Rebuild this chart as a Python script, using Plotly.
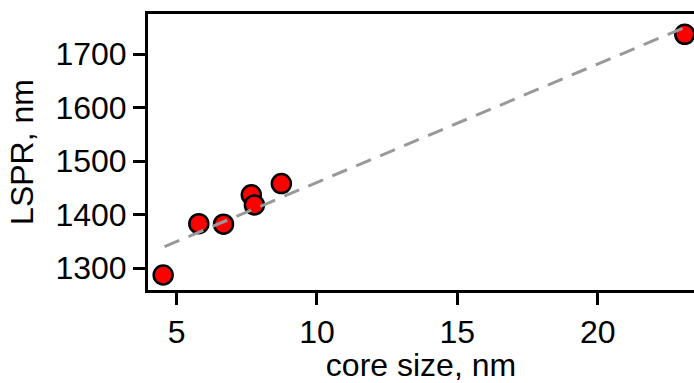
import plotly.graph_objects as go

core_size = [4.52, 5.79, 6.67, 7.66, 7.77, 8.73, 23.1]
lspr = [1287, 1383, 1382, 1437, 1418, 1458, 1737]
fit_x = [4.57, 23.1]
fit_y = [1340, 1750]

x_ticks = [5, 10, 15, 20]
y_ticks = [1300, 1400, 1500, 1600, 1700]

fig = go.Figure()
fig.add_trace(go.Scatter(
    x=core_size, y=lspr, mode="markers",
    marker=dict(size=19, color="#ff0000", line=dict(color="black", width=2.5)),
    cliponaxis=False, showlegend=False))
fig.add_trace(go.Scatter(
    x=fit_x, y=fit_y, mode="lines",
    line=dict(color="#999999", width=3, dash="16px,10px"),
    showlegend=False))

fam = "Liberation Sans, Arial, sans-serif"
tick_font = dict(family=fam, size=32, color="black")
title_font = dict(family=fam, size=32, color="black")
fig.update_layout(
    width=694, height=383,
    margin=dict(l=148, r=0, t=14, b=93),
    paper_bgcolor="white", plot_bgcolor="white",
    font=tick_font,
    xaxis=dict(range=[3.98, 23.43], tickvals=x_ticks, showgrid=False, zeroline=False,
               showline=True, linecolor="black", linewidth=3, mirror=True,
               ticks="outside", ticklen=12, tickwidth=3, tickcolor="black",
               title=dict(text="core size, nm", standoff=4, font=title_font), tickfont=tick_font),
    yaxis=dict(range=[1259, 1775], tickvals=y_ticks, showgrid=False, zeroline=False,
               showline=True, linecolor="black", linewidth=3, mirror=False,
               ticks="outside", ticklen=12, tickwidth=3, tickcolor="black",
               title=dict(text="LSPR, nm", standoff=13, font=title_font), tickfont=tick_font),
)
fig.write_html("out.html")
